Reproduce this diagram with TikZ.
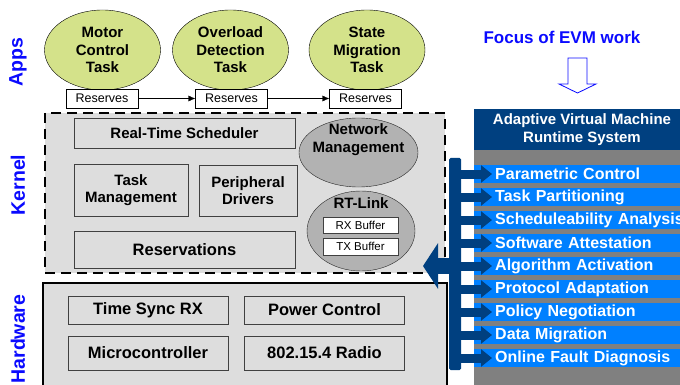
\documentclass[tikz,border=0pt]{standalone}
\usepackage{fontspec}
\setmainfont{Liberation Sans}
\usetikzlibrary{positioning}
\usetikzlibrary{arrows,arrows.meta,shapes}
\usetikzlibrary{calc}
\definecolor{appgreen}{RGB}{212,226,138}
\definecolor{kernelgray}{RGB}{221,221,221}
\definecolor{ellgray}{RGB}{178,178,178}
\definecolor{evmdark}{RGB}{0,64,128}
\definecolor{evmbar}{RGB}{0,128,255}
\definecolor{evmbody}{RGB}{128,128,128}
\definecolor{labelblue}{RGB}{10,10,255}
\newcommand{\boldfont}{\fontsize{15}{17.5}\selectfont\bfseries}
\newcommand{\bigbold}{\fontsize{16.5}{18}\selectfont\bfseries}
\tikzstyle{layer}=[rotate=90,text=labelblue,font=\fontsize{19.5}{22}\selectfont\bfseries,inner sep=0pt]
\tikzstyle{task}=[ellipse,draw=black,fill=appgreen,minimum width=116pt,minimum height=80pt,inner sep=0pt,align=center,font=\boldfont]
\tikzstyle{reserve}=[rectangle,draw=black,fill=white,minimum width=72pt,minimum height=19pt,inner sep=0pt,font=\fontsize{12.5}{14}\selectfont]
\tikzstyle{kernelarea}=[rectangle,draw=black,fill=kernelgray,line width=2.5pt,dash pattern=on 10pt off 6pt,minimum width=400pt,minimum height=160pt,inner sep=0pt]
\tikzstyle{hwarea}=[rectangle,draw=black,fill=kernelgray,line width=2.5pt,minimum width=404pt,minimum height=117pt,inner sep=0pt]
\tikzstyle{kbox}=[rectangle,draw=black!75,fill=kernelgray,inner sep=0pt,align=center,font=\boldfont]
\tikzstyle{kell}=[ellipse,draw=black!85,fill=ellgray,inner sep=0pt]
\tikzstyle{ktext}=[align=center,inner sep=0pt,font=\boldfont]
\tikzstyle{buffer}=[rectangle,draw=black!75,fill=white,minimum width=75pt,minimum height=16.5pt,inner sep=0pt,font=\fontsize{11.5}{13}\selectfont]
\tikzstyle{hwbox}=[kbox,minimum width=160pt,font=\bigbold]
\tikzstyle{edge}=[draw,-{Latex[length=7pt,width=6pt]}]
\tikzstyle{panel}=[rectangle,fill=evmbody,minimum width=216pt,minimum height=286pt,inner sep=0pt]
\tikzstyle{panelhead}=[rectangle,fill=evmdark,text=white,minimum width=216pt,minimum height=41pt,inner sep=0pt,align=center,font=\boldfont]
\tikzstyle{evmitem}=[rectangle,anchor=west,fill=evmbar,text=white,minimum height=18pt,inner ysep=0pt,inner xsep=21pt,text width=220pt,align=left,font=\fontsize{16}{18}\selectfont\bfseries]
\tikzstyle{busbar}=[rectangle,fill=evmdark,rounded corners=1.5pt,minimum width=12pt,minimum height=212pt,inner sep=0pt]
\tikzstyle{busarrow}=[draw=evmdark,line width=9pt,-{Triangle[length=11pt,width=17pt]}]
\tikzstyle{bigarrow}=[draw=evmdark,line width=16pt,-{Triangle[length=15pt,width=45pt]}]
\tikzstyle{focus}=[text=labelblue,font=\fontsize{17}{20}\selectfont\bfseries]

\begin{document}
\begin{tikzpicture}[x=1pt,y=-1pt]
\useasboundingbox (0,0) rectangle (680,385);

    % Layer names on the left
    \foreach \pos/\name/\label in {{(18,62)/apps/Apps}, {(18,185)/kern/Kernel}, {(18,339)/hw/Hardware}}
        \node[layer] (\name) at \pos {\label};

    % Kernel and hardware layers
    \node[kernelarea] (kernel) at (245,193) {};
    \node[hwarea] (hardware) at (245,341.5) {};

    % Application tasks and their reserves
    \foreach \pos/\name/\label in {{(102.5,50)/motor/Motor\\Control\\Task}, {(230.5,50)/overload/Overload\\Detection\\Task}, {(367,50)/migration/State\\Migration\\Task}}
        \node[task] (\name) at \pos {\label};
    \foreach \pos/\name in {{(102,98.5)/res1}, {(231.5,98.5)/res2}, {(365.5,98.5)/res3}}
        \node[reserve] (\name) at \pos {Reserves};
    \foreach \source/\dest in {res1/res2, res2/res3}
        \path[edge] (\source) -- (\dest);

    % Kernel blocks
    \node[kbox, minimum width=221pt, minimum height=30pt] (sched) at (184.5,133) {Real-Time Scheduler};
    \node[kbox, minimum width=114pt, minimum height=52pt] (taskmgmt) at (131,190) {Task\\Management};
    \node[kbox, minimum width=98pt, minimum height=51pt] (periph) at (248,190.5) {Peripheral\\Drivers};
    \node[kbox, minimum width=221pt, minimum height=37pt, font=\bigbold] (resv) at (184.5,249.5) {Reservations};
    \node[kell, minimum width=119pt, minimum height=69pt] (netmgmt) at (358.5,152.5) {};
    \node[ktext] (nettext) at (358.5,139.5) {Network\\Management};
    \node[kell, minimum width=108pt, minimum height=80pt] (rtlink) at (361,231) {};
    \node[ktext] (rttext) at (361,203) {RT-Link};
    \node[buffer] (rxbuf) at (360.5,225) {RX Buffer};
    \node[buffer] (txbuf) at (360.5,246.5) {TX Buffer};

    % Hardware blocks
    \foreach \pos/\name/\label in {{(148,310)/timesync/Time Sync RX}, {(324.5,310)/power/Power Control}}
        \node[hwbox, minimum height=28pt] (\name) at \pos {\label};
    \foreach \pos/\name/\label in {{(148,353)/micro/Microcontroller}, {(324.5,353)/radio/802.15.4 Radio}}
        \node[hwbox, minimum height=34pt] (\name) at \pos {\label};

    % Runtime system panel
    \node[panel] (evm) at (582,252) {};
    \node[panelhead] (evmhead) at (582,129.5) {Adaptive Virtual Machine\\Runtime System};
    \foreach \i/\label in {0/Parametric Control, 1/Task Partitioning, 2/Scheduleability Analysis, 3/Software Attestation, 4/Algorithm Activation, 5/Protocol Adaptation, 6/Policy Negotiation, 7/Data Migration, 8/Online Fault Diagnosis}
        \node[evmitem] (item\i) at (474,174+23*\i) {\label};

    % Bus from the runtime system
    \node[busbar] (bus) at (455,264) {};
    \foreach \i in {0,...,8}
        \path[busarrow] (bus.center |- item\i.west) -- ([xshift=18pt]item\i.west);
    \coordinate (kin) at (423,266);
    \path[bigarrow] (bus.center |- kin) -- (kin);

    % Focus label
    \node[focus] (focus) at (562,37) {Focus of EVM work};
    \draw[labelblue, line width=0.8pt] (568,58) -- (587,58) -- (587,84) -- (596,84) -- (577.5,93) -- (559,84) -- (568,84) -- cycle;

\end{tikzpicture}
\end{document}
